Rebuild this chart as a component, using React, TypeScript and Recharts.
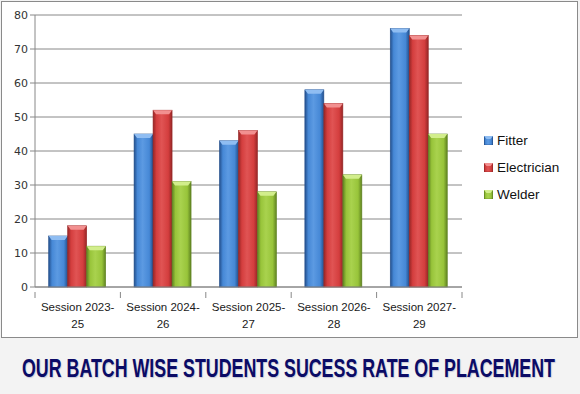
import { BarChart, Bar, XAxis, YAxis, CartesianGrid } from "recharts";

const categories = ["Session 2023-25", "Session 2024-26", "Session 2025-27", "Session 2026-28", "Session 2027-29"];
const fitter = [15, 45, 43, 58, 76];
const electrician = [18, 52, 46, 54, 74];
const welder = [12, 31, 28, 33, 45];
const yTicks = [0, 10, 20, 30, 40, 50, 60, 70, 80];

const data = categories.map((name, i) => ({
  name,
  Fitter: fitter[i],
  Electrician: electrician[i],
  Welder: welder[i],
}));

const series = [
  { key: "Fitter", id: "gFit", edge: "#234f8c", mid: "#4688d6", light: "#5c9ae2", top: "#8fbdf2" },
  { key: "Electrician", id: "gEle", edge: "#962626", mid: "#d43e3e", light: "#e05454", top: "#f29090" },
  { key: "Welder", id: "gWel", edge: "#5f8221", mid: "#98c43a", light: "#a9d24e", top: "#d2ee8c" },
];

type S = (typeof series)[number];

const CylinderBar = (props: any) => {
  const { x, y, width, height, s } = props as { x: number; y: number; width: number; height: number; s: S };
  if (!height || height <= 0) return null;
  const cap = Math.min(4, height);
  return (
    <g>
      <rect x={x} y={y} width={width} height={height} fill={`url(#${s.id})`} stroke={s.edge} strokeWidth={0.6} />
      <polygon
        points={`${x},${y} ${x + width},${y} ${x + width - 3},${y + cap} ${x + 3},${y + cap}`}
        fill={s.top}
      />
    </g>
  );
};

const CategoryTick = (props: any) => {
  const { x, y, payload, width } = props;
  const band = width / categories.length;
  const label: string = payload.value;
  const cut = label.lastIndexOf("-") + 1;
  const first = label.slice(0, cut);
  const second = label.slice(cut);
  const isLast = payload.index === categories.length - 1;
  return (
    <g>
      <line x1={x - band / 2} y1={y - 3} x2={x - band / 2} y2={y + 3} stroke="#888" />
      {isLast && <line x1={x + band / 2} y1={y - 3} x2={x + band / 2} y2={y + 3} stroke="#888" />}
      <text x={x} y={y + 16} textAnchor="middle" fontSize={11.5} fill="#1a1a1a" fontFamily="Liberation Sans, Arial, sans-serif">
        <tspan x={x} dy={0}>{first}</tspan>
        <tspan x={x} dy={17}>{second}</tspan>
      </text>
    </g>
  );
};

const LegendBox = () => (
  <div style={{ fontFamily: "Liberation Sans, Arial, sans-serif", fontSize: 13.5, color: "#111" }}>
    {series.map((s) => (
      <div key={s.key} style={{ display: "flex", alignItems: "center", height: 27 }}>
        <svg width={9} height={9} style={{ marginRight: 4 }}>
          <rect x={0} y={0} width={9} height={9} fill={`url(#${s.id})`} stroke={s.edge} strokeWidth={0.6} />
          <polygon points="0,0 9,0 6.5,3 2.5,3" fill={s.top} />
        </svg>
        <span>{s.key}</span>
      </div>
    ))}
  </div>
);

export default function App() {
  return (
    <div style={{ position: "relative", width: 580, height: 394, background: "#f3f3f3", overflow: "hidden" }}>
      <style>{"body{margin:0}"}</style>
      <div
        style={{
          position: "absolute",
          left: 1,
          top: 1,
          width: 575,
          height: 335,
          background: "#fff",
          border: "1px solid #8a8a8a",
        }}
      />
      <div style={{ position: "absolute", left: 0, top: 0 }}>
        <BarChart
          width={580}
          height={340}
          data={data}
          margin={{ top: 15, right: 118, bottom: 13, left: 5 }}
          barGap={0}
          barCategoryGap="16%"
        >
          <defs>
            {series.map((s) => (
              <linearGradient key={s.id} id={s.id} x1="0" y1="0" x2="1" y2="0">
                <stop offset="0%" stopColor={s.edge} />
                <stop offset="18%" stopColor={s.mid} />
                <stop offset="45%" stopColor={s.light} />
                <stop offset="80%" stopColor={s.mid} />
                <stop offset="100%" stopColor={s.edge} />
              </linearGradient>
            ))}
          </defs>
          <CartesianGrid vertical={false} stroke="#888" strokeWidth={1} />
          <XAxis
            dataKey="name"
            axisLine={{ stroke: "#888" }}
            tickLine={false}
            tick={<CategoryTick />}
            height={40}
            interval={0}
          />
          <YAxis
            domain={[0, 80]}
            ticks={yTicks}
            width={30}
            axisLine={{ stroke: "#888" }}
            tickLine={{ stroke: "#888" }}
            tickSize={5}
            tick={{ fontSize: 11, fill: "#333", fontFamily: "DejaVu Sans, Verdana, sans-serif" }}
          />
          {series.map((s) => (
            <Bar
              key={s.key}
              dataKey={s.key}
              isAnimationActive={false}
              shape={(p: any) => <CylinderBar {...p} s={s} />}
            />
          ))}
        </BarChart>
      </div>
      <div style={{ position: "absolute", left: 484, top: 127, width: 90 }}>
        <LegendBox />
      </div>
      <svg style={{ position: "absolute", left: 0, top: 340 }} width={580} height={54}>
        <text
          transform="translate(22,37) scale(0.99,1.39)"
          x={0}
          y={0}
          fontFamily="Liberation Sans, Arial, sans-serif"
          fontWeight="bold"
          fontSize={18}
          fill="#0b0b66"
          style={{ textShadow: "1px 1px 1px #c8c8d8" }}
        >
          OUR BATCH WISE STUDENTS SUCESS RATE OF PLACEMENT
        </text>
      </svg>
    </div>
  );
}
